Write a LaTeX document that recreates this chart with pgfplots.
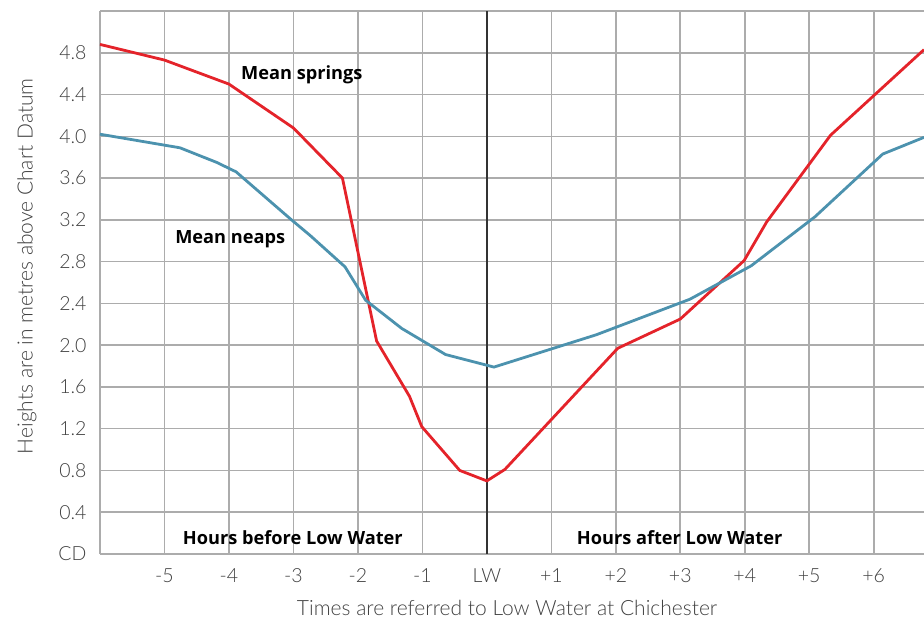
\documentclass[border=0pt]{standalone}
\usepackage{fontspec}
\IfFontExistsTF{Lato Light}{\setmainfont{Lato Light}}{\setmainfont{Lato}}
\newfontfamily\labelfont{Open Sans}
\usepackage{pgfplots}
\usepackage{pgfplotstable}
\pgfplotsset{compat=1.18}

\definecolor{springred}{RGB}{228,35,42}
\definecolor{neapblue}{RGB}{76,146,174}
\definecolor{gridgray}{RGB}{172,172,172}

% mean springs, hours from LW vs height above CD
\pgfplotstableread{
x y
-6.00 4.88
-5.00 4.73
-4.00 4.50
-3.00 4.08
-2.24 3.60
-1.71 2.04
-1.20 1.51
-1.01 1.22
-0.42 0.80
0.00 0.70
0.28 0.81
2.03 1.97
3.00 2.25
3.99 2.81
4.34 3.18
5.33 4.01
6.78 4.83
}\springs

% mean neaps
\pgfplotstableread{
x y
-6.00 4.02
-4.76 3.89
-4.19 3.75
-3.89 3.66
-3.03 3.20
-2.74 3.05
-2.20 2.75
-1.88 2.43
-1.32 2.16
-0.64 1.91
0.11 1.79
1.70 2.10
3.15 2.44
4.10 2.76
5.09 3.23
6.14 3.83
6.78 3.99
}\neaps

\begin{document}
\begin{tikzpicture}
\begin{axis}[
  at={(0,0)}, anchor=south west,
  scale only axis,
  width=824pt, height=543pt,
  xmin=-6, xmax=6.78,
  ymin=0, ymax=5.2,
  axis x line*=bottom, axis y line*=left,
  axis line style={gridgray, line width=1.6pt},
  xtick={-5,-4,-3,-2,-1,0,1,2,3,4,5,6},
  xticklabels={-5,-4,-3,-2,-1,LW,+1,+2,+3,+4,+5,+6},
  ytick={0,0.4,0.8,1.2,1.6,2.0,2.4,2.8,3.2,3.6,4.0,4.4,4.8,5.2},
  yticklabels={CD,0.4,0.8,1.2,1.6,2.0,2.4,2.8,3.2,3.6,4.0,4.4,4.8,{}},
  major tick length=0,
  grid=major,
  major grid style={gridgray, line width=1.6pt},
  tick label style={font=\fontsize{19.5}{22}\selectfont, text=black!75},
  xticklabel style={yshift=-11pt},
  yticklabel style={xshift=-10pt},
  xlabel={Times are referred to Low Water at Chichester},
  ylabel={Heights are in metres above Chart Datum},
  label style={font=\fontsize{21}{24}\selectfont, text=black!75},
  xlabel style={at={(axis description cs:0.494,0)}, anchor=center, yshift=-54pt},
  ylabel style={at={(axis description cs:0,0.53)}, anchor=center, yshift=73pt},
]
\draw[black!80, line width=1.6pt] (axis cs:0,0) -- (axis cs:0,5.2);

\addplot[springred, line width=2.8pt, no markers] table[x=x, y=y] {\springs};
\addplot[neapblue, line width=2.8pt, no markers] table[x=x, y=y] {\neaps};

\begin{scope}[every node/.style={font=\labelfont\bfseries\fontsize{18.2}{21}\selectfont, text=black}]
\node at (axis cs:-2.87,4.59) {Mean springs};
\node at (axis cs:-3.98,3.01) {Mean neaps};
\node at (axis cs:-3.01,0.16) {Hours before Low Water};
\node at (axis cs:2.99,0.16) {Hours after Low Water};
\end{scope}
\end{axis}
\pgfresetboundingbox
\path (-100pt,-66pt) rectangle (824pt,554pt);
\end{tikzpicture}
\end{document}
